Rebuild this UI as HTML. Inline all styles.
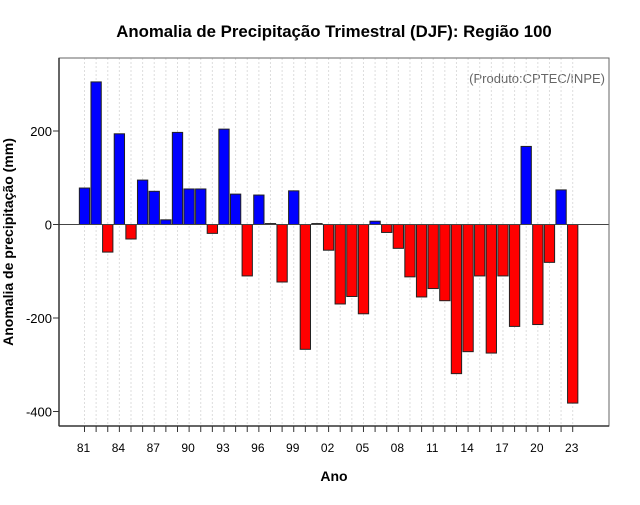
<!DOCTYPE html>
<html><head><meta charset="utf-8"><style>
body{margin:0;background:#fff;}
svg text{font-family:"Liberation Sans",sans-serif;}
</style></head><body>
<svg id="chart" width="640" height="500" xmlns="http://www.w3.org/2000/svg">
<rect width="640" height="500" fill="#fff"/>
<text x="334" y="37" text-anchor="middle" font-size="16.8" font-weight="bold">Anomalia de Precipitação Trimestral (DJF): Região 100</text>
<text x="605" y="83" text-anchor="end" font-size="13" fill="#666">(Produto:CPTEC/INPE)</text>
<text x="334" y="481" text-anchor="middle" font-size="14" font-weight="bold">Ano</text>
<text transform="translate(13,242) rotate(-90)" text-anchor="middle" font-size="14" font-weight="bold">Anomalia de precipitação (mm)</text>
<g id="grid"></g><g id="bars"></g><g id="axes"></g>
</svg>
<script>
const years = ["81","82","83","84","85","86","87","88","89","90","91","92","93","94","95","96","97","98","99","00","01","02","03","04","05","06","07","08","09","10","11","12","13","14","15","16","17","18","19","20","21","22","23"];
const anomalies = [78,305,-59,194,-31,95,71,10,197,76,76,-19,204,65,-110,63,2,-123,72,-267,2,-55,-170,-154,-191,7,-17,-51,-112,-155,-137,-163,-319,-272,-110,-275,-110,-218,167,-214,-81,74,-382];
const yTicks = [-400,-200,0,200];
const NS="http://www.w3.org/2000/svg";
const L=59,R=609,T=58,B=426;
const y0=224.5, ppu=93.5/200;
const yScale=v=>y0-v*ppu;
const x0=84.5, step=(572.7-84.5)/42;
const xScale=i=>x0+i*step;
const bw=10.3;
function mk(tag,attrs,parent){const e=document.createElementNS(NS,tag);for(const k in attrs)e.setAttribute(k,attrs[k]);parent.appendChild(e);return e;}
const grid=document.getElementById('grid'),bars=document.getElementById('bars'),axes=document.getElementById('axes');
years.forEach((yr,i)=>{
  const x=xScale(i);
  const g=mk('line',{x1:x,x2:x,y1:T,y2:B,stroke:'#ddd','stroke-dasharray':'2,2','stroke-width':1},grid);
  
  
});
anomalies.forEach((v,i)=>{
  const x=xScale(i);
  const yTop=Math.min(yScale(v),y0), h=Math.abs(yScale(v)-y0);
  const r=mk('rect',{x:x-bw/2,y:yTop,width:bw,height:Math.max(h,0.5),fill:v>=0?'#0000ff':'#ff0000',stroke:'#222','stroke-width':1},bars);
  
  
});
const zl=mk('line',{x1:L,x2:R,y1:y0,y2:y0,stroke:'#444','stroke-width':1},axes);


const box=mk('rect',{x:L,y:T,width:R-L,height:B-T,fill:'none',stroke:'#666','stroke-width':1},axes);


mk('line',{x1:L,x2:L,y1:T,y2:B,stroke:'#333','stroke-width':1.5},axes);
mk('line',{x1:L,x2:R,y1:B,y2:B,stroke:'#333','stroke-width':1.5},axes);
years.forEach((yr,i)=>{
  const x=xScale(i);
  const t=mk('line',{x1:x,x2:x,y1:B,y2:B+6,stroke:'#333'},axes);
  
  
  if(i%3===0){
    const tx=mk('text',{x:x-1,y:452,'text-anchor':'middle','font-size':12},axes);
    tx.textContent=yr;
    
    
  }
});
yTicks.forEach(v=>{
  const y=yScale(v);
  const t=mk('line',{x1:L-6,x2:L,y1:y,y2:y,stroke:'#333'},axes);
  
  
  const tx=mk('text',{x:L-7,y:y+5,'text-anchor':'end','font-size':13},axes);
  tx.textContent=v;
  
  
});
</script>
</body></html>
